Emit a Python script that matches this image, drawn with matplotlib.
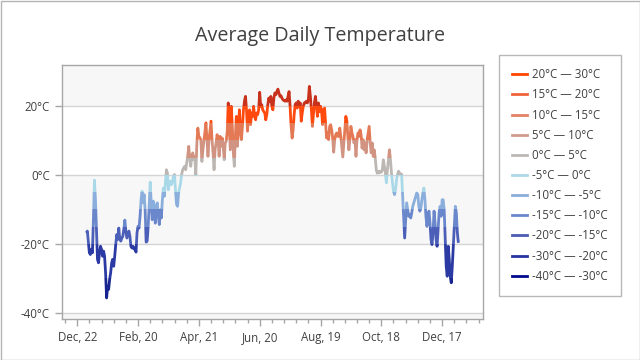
import numpy as np
import matplotlib
matplotlib.use('Agg')
import matplotlib.pyplot as plt
import matplotlib.dates as mdates
from matplotlib.patches import Rectangle
from matplotlib.lines import Line2D
from matplotlib.ticker import FixedLocator

plt.rcParams['font.family'] = ['Open Sans', 'DejaVu Sans']

# ---------------- data ----------------
start_date = '2018-12-31'

temps_winter = [
    -16.8, -16.3, -19.5, -22.6, -23.1, -21.6, -22.6, -13.0, -1.5, -7.2,
    -15.9, -24.5, -25.5, -22.6, -20.7, -21.6, -23.6, -22.1, -23.6, -28.4,
    -35.7, -32.3, -33.2, -30.3, -28.4, -25.5, -24.5, -26.5, -23.6, -20.2,
    -17.3, -18.7, -15.4, -18.7, -19.2, -18.3, -17.8, -15.8, -13.1, -16.3,
    -18.3, -17.3, -16.3, -17.8, -20.7, -21.2, -20.7, -21.5, -21.2, -22.4,
    -16.8, -14.9, -15.4, -12.0, -7.2, -4.7, -8.1, -5.7, -10.1, -19.5,
    -19.2, -14.9, -9.1, -2.1, -8.1, -13.0, -7.6, -9.1, -14.0, -9.1,
    -8.1, -12.0, -14.4, -10.1, -12.5, -7.2, -3.8, -6.2, -2.3, 1.5,
    0.6, -4.3, -2.3, -1.8, -2.8, -1.8, -0.4, 0.1, -4.7, -8.6,
    -9.1, -5.2, -3.8, -2.3, 0.1, 1.5, 2.0, 2.5, 1.5, 3.5,
    5.4, 8.3, 4.9, 2.5, 5.4, 6.4, 4.4, 5.4,
]

temps_spring = [
    0.0, 9.0, 13.6, 11.2, 10.8, 10.2, 3.9, 7.3, 9.8, 12.5,
    15.1, 10.2, 5.4, 10.2, 13.0, 15.6, 10.2, 6.4, 1.5, 7.3,
    9.3, 11.7, 10.2, 5.4, 11.2, 8.3, 10.7, 8.3, 4.4, 9.3,
    9.8, 12.7, 20.9, 14.1, 7.3, 19.9, 14.1, 6.4, 2.5, 11.2,
    17.0, 8.3, 12.7, 18.9, 13.1, 10.2, 14.1, 18.9, 21.4, 22.8,
    18.9, 12.7, 17.0, 18.9, 14.6, 18.0, 17.0, 19.9, 17.0, 16.0,
    18.0, 17.5, 18.9,
]

temps_summer = [
    24.0, 19.9, 20.4, 18.9, 18.4, 18.0, 16.0, 17.5, 20.4, 22.3,
    21.4, 22.8, 19.9, 18.9, 22.3, 23.8, 23.3, 24.2, 24.9, 23.8,
    22.8, 23.0, 22.3, 21.8, 21.6, 21.4, 21.8, 21.4, 22.8, 24.2,
    19.9, 14.1, 10.7, 13.1, 17.5, 20.4, 20.9, 19.4, 21.4, 19.9,
    20.9, 15.6, 18.0, 19.9, 20.9, 20.9, 21.4, 20.9, 21.8, 25.7,
    22.8, 18.9, 14.1, 17.5, 20.9, 22.8, 19.9, 17.0, 20.9, 18.4,
    19.9,
]

temps_autumn = [
    18.9, 14.6, 18.9, 19.4, 15.1, 10.7, 12.2, 10.2, 14.1, 14.6,
    13.1, 10.7, 6.6, 10.2, 11.7, 12.2, 11.2, 11.2, 13.6, 11.2,
    8.3, 5.2, 9.3, 13.1, 17.0, 15.6, 11.2, 7.3, 10.2, 14.1,
    12.2, 11.2, 9.3, 10.2, 5.4, 10.2, 12.2, 11.2, 13.1, 11.7,
    7.8, 10.2, 7.3, 9.3, 6.4, 10.2, 12.2, 14.1, 9.3, 6.4,
    9.3, 5.4, 7.3, 4.9, 1.5, 0.5, 1.0, 0.6, 1.1, 0.8,
    1.5, 4.4, 2.5, 0.6, -2.3, 1.5, 4.4, 7.3, 4.4, 0.6,
    -2.3, -4.7, -5.7, -4.3, -1.4, 0.1, 1.1, 0.5, 0.3, 0.2,
    -6.2, -12.0, -18.3, -13.0, -8.1, -10.1, -12.0, -11.5, -12.5, -11.0,
    -9.1, -8.1, -7.2, -6.2, -5.2, -5.7, -9.1, -10.5, -9.6, -7.2,
    -5.2, -3.8, -7.2, -12.0, -14.9, -12.0, -10.5, -13.9, -18.7, -20.2,
    -16.8, -10.5, -13.9, -18.7, -20.7, -15.9, -11.0, -9.1,
]

temps_december = [
    -12.0, -7.2, -7.2, -10.1, -18.7, -26.5, -29.4, -20.7, -24.5, -29.4,
    -31.3, -26.5, -20.7, -14.9, -9.1, -11.0, -16.8, -19.7,
]

range_bounds = [(20, 30), (15, 20), (10, 15), (5, 10), (0, 5), (-5, 0),
                (-10, -5), (-15, -10), (-20, -15), (-30, -20), (-40, -30)]
range_labels = ['20°C — 30°C', '15°C — 20°C', '10°C — 15°C', '5°C — 10°C',
                '0°C — 5°C', '-5°C — 0°C', '-10°C — -5°C', '-15°C — -10°C',
                '-20°C — -15°C', '-30°C — -20°C', '-40°C — -30°C']
legend_colors = ['#ff4500', '#f0643a', '#e38264', '#d09c8c', '#bcb8b4', '#add8e6',
                 '#8cadd8', '#6a86cc', '#4a5cb4', '#2434a0', '#000a8a']
line_colors = ['#c8321c', '#ff4a0f', '#e47a55', '#d29482', '#bdb7b3', '#a9d9e8',
               '#8aafdc', '#6a87cc', '#4b5eb8', '#2c3ba3', '#18248f']

y_ticks = [-40, -20, 0, 20]
x_tick_first = '2018-12-22'
x_tick_step = 60
x_tick_count = 7
x_minor_step = 12

title = 'Average Daily Temperature'

# ---------------- figure ----------------
temps = np.array(temps_winter + temps_spring + temps_summer + temps_autumn + temps_december)
dates = np.datetime64(start_date) + np.arange(len(temps))

fig = plt.figure(figsize=(6.4, 3.6), dpi=100)
ax = fig.add_axes([62 / 640, 40.7 / 360, 420.7 / 640, 254.6 / 360])

first = np.datetime64(x_tick_first)
major = first + np.arange(x_tick_count) * x_tick_step
minor = first + np.arange(-2, x_tick_count * 5 + 2) * x_minor_step
xmin = mdates.date2num(first - np.timedelta64(15, 'D'))
xmax = mdates.date2num(first + np.timedelta64(400, 'D'))
ax.set_xlim(xmin, xmax)
ax.set_ylim(-41.9, 32.0)

# background bands
band_color = '#f7f7f7'
ax.axhspan(20, 40, color=band_color, zorder=0, lw=0)
ax.axhspan(-20, 0, color=band_color, zorder=0, lw=0)
ax.axhspan(-50, -40, color=band_color, zorder=0, lw=0)
for v in y_ticks:
    ax.axhline(v, color='#d4d4d4', lw=1.0, zorder=1)

# colored line by value ranges
for (lo, hi), c in zip(range_bounds, line_colors):
    ln, = ax.plot(dates, temps, color=c, lw=2.0, zorder=3,
                  solid_joinstyle='round', solid_capstyle='butt')
    rect = Rectangle((xmin - 100, lo), 1000, hi - lo, transform=ax.transData)
    ln.set_clip_path(rect)

ax.set_xlim(xmin, xmax)

ax.set_yticks(y_ticks)
ax.set_yticklabels([f'{v}°C' for v in y_ticks])
ax.xaxis.set_major_locator(FixedLocator(mdates.date2num(major)))
ax.xaxis.set_minor_locator(FixedLocator(mdates.date2num(minor)))
ax.xaxis.set_major_formatter(mdates.DateFormatter('%b, %d'))

spine_c = '#a6a6a6'
for s in ax.spines.values():
    s.set_color(spine_c)
    s.set_linewidth(1.0)
ax.tick_params(axis='both', which='major', length=5, width=1, color=spine_c,
               labelcolor='#404040', labelsize=8.3)
ax.tick_params(axis='y', pad=3.8)
ax.tick_params(axis='x', which='major', pad=3.5)
ax.tick_params(axis='x', which='minor', length=3, width=1, color=spine_c)

fig.text(0.5, 1 - 36 / 360, title, ha='center', va='center', fontsize=14.2, color='#404040')

handles = [Line2D([], [], color=c, lw=2) for c in legend_colors]
leg = fig.legend(handles, range_labels, loc='upper left',
                 bbox_to_anchor=(499 / 640, 1 - 55 / 360), frameon=True, fancybox=False,
                 edgecolor=spine_c, fontsize=8.3, handlelength=1.3, handletextpad=0.45,
                 labelspacing=0.62, borderpad=1.15, borderaxespad=0)
leg.get_frame().set_linewidth(1.0)
for t in leg.get_texts():
    t.set_color('#404040')

fig.patches.append(Rectangle((0.5 / 640, 0.5 / 360), 1 - 1 / 640, 1 - 1 / 360,
                             transform=fig.transFigure, fill=False,
                             edgecolor='#b4b4b4', lw=1.0))

fig.savefig('out.png', dpi=100)
